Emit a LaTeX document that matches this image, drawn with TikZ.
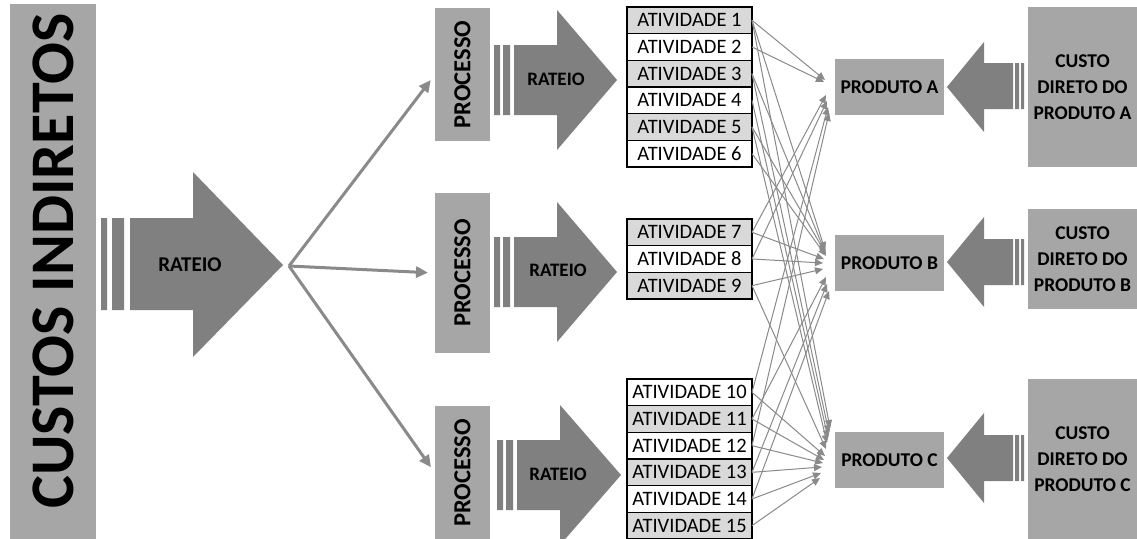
\documentclass[tikz,border=0pt]{standalone}
\usepackage{fontspec}
\setmainfont{Carlito}
\usepackage{graphicx}
\usetikzlibrary{positioning,calc,arrows.meta}
\definecolor{Caixa}{HTML}{A6A6A6}
\definecolor{Seta}{HTML}{808080}
\definecolor{Linha}{HTML}{8A8A8A}
\definecolor{Claro}{HTML}{D9D9D9}

\begin{document}
\begin{tikzpicture}[x=1pt,y=-1pt,
    every node/.style={align=center,inner sep=0pt,outer sep=0pt},
    bloco/.style={fill=Caixa,font=\bfseries\fontsize{19.5}{26}\selectfont},
    ativ/.style={draw=black,line width=1.6pt,minimum width=125pt,minimum height=26.67pt,font=\fontsize{20.5}{22}\selectfont},
    rotulo/.style={font=\bfseries\fontsize{19}{22}\selectfont},
    leque/.style={draw=Linha,line width=3pt,-{Triangle[length=12pt,width=11pt]},shorten >=7pt},
    liga/.style={draw=Linha,line width=1pt,-{Triangle[length=8pt,width=7pt]}}]
  \clip (0,0) rectangle (1137,538);
  \fill[white] (0,0) rectangle (1137,538);

  % custos indiretos e rateio geral
  \node[bloco,minimum width=86pt,minimum height=536pt,font=\bfseries\fontsize{62}{62}\selectfont] (ci) at (53,272) {\rotatebox{90}{\hspace*{22pt}CUSTOS INDIRETOS}};
  \fill[Seta] (101,218) rectangle (107,310) (112,218) rectangle (124,310)
    (130,218) -- (193,218) -- (193,172) -- (283,265) -- (193,357) -- (193,310) -- (130,310) -- cycle;
  \node[rotulo,font=\bfseries\fontsize{21}{24}\selectfont] (rt) at (190,265) {RATEIO};
  \coordinate (fan) at (289,266);

  % processos
  \node[bloco,minimum width=55pt,minimum height=133pt,font=\bfseries\fontsize{24.5}{26}\selectfont] (pr1) at (462.5,74.5) {\rotatebox{90}{PROCESSO}};
  \node[bloco,minimum width=55pt,minimum height=160pt,font=\bfseries\fontsize{24.5}{26}\selectfont] (pr2) at (462.5,273) {\rotatebox{90}{PROCESSO}};
  \node[bloco,minimum width=55pt,minimum height=134pt,font=\bfseries\fontsize{24.5}{26}\selectfont] (pr3) at (462.5,473) {\rotatebox{90}{PROCESSO}};
  \draw[leque] (fan) -- (pr1.west);
  \draw[leque] (fan) -- (pr2.west);
  \draw[leque] (fan) -- (pr3.west);

  % rateio dos processos
  \fill[Seta] (494,45) rectangle (500,115) (503,45) rectangle (510,115)
    (514,45) -- (557,45) -- (557,10) -- (617,80) -- (557,150) -- (557,115) -- (514,115) -- cycle;
  \fill[Seta] (494,237) rectangle (500,307) (503,237) rectangle (510,307)
    (514,237) -- (557,237) -- (557,202) -- (617,272) -- (557,342) -- (557,307) -- (514,307) -- cycle;
  \fill[Seta] (497,440) rectangle (503,510) (506,440) rectangle (513,510)
    (517,440) -- (560,440) -- (560,405) -- (621,475) -- (560,545) -- (560,510) -- (517,510) -- cycle;
  \node[rotulo] (r1) at (556,79) {RATEIO};
  \node[rotulo] (r2) at (558,270) {RATEIO};
  \node[rotulo] (r3) at (558,474) {RATEIO};

  % atividades
  \node[ativ,fill=Claro] (a1) at (689.5,20.3) {ATIVIDADE 1};
  \node[ativ,fill=white,below=0pt of a1] (a2) {ATIVIDADE 2};
  \node[ativ,fill=Claro,below=0pt of a2] (a3) {ATIVIDADE 3};
  \node[ativ,fill=white,below=0pt of a3] (a4) {ATIVIDADE 4};
  \node[ativ,fill=Claro,below=0pt of a4] (a5) {ATIVIDADE 5};
  \node[ativ,fill=white,below=0pt of a5] (a6) {ATIVIDADE 6};
  \node[ativ,fill=Claro] (a7) at (689.5,232.3) {ATIVIDADE 7};
  \node[ativ,fill=white,below=0pt of a7] (a8) {ATIVIDADE 8};
  \node[ativ,fill=Claro,below=0pt of a8] (a9) {ATIVIDADE 9};
  \node[ativ,fill=white] (a10) at (689.5,392.3) {ATIVIDADE 10};
  \node[ativ,fill=Claro,below=0pt of a10] (a11) {ATIVIDADE 11};
  \node[ativ,fill=white,below=0pt of a11] (a12) {ATIVIDADE 12};
  \node[ativ,fill=Claro,below=0pt of a12] (a13) {ATIVIDADE 13};
  \node[ativ,fill=white,below=0pt of a13] (a14) {ATIVIDADE 14};
  \node[ativ,fill=Claro,below=0pt of a14] (a15) {ATIVIDADE 15};

  % produtos e custos diretos
  \node[bloco,minimum width=109pt,minimum height=56pt] (pA) at (889.5,87) {PRODUTO A};
  \node[bloco,minimum width=109pt,minimum height=56pt] (pB) at (889.5,263) {PRODUTO B};
  \node[bloco,minimum width=109pt,minimum height=56pt] (pC) at (889.5,460) {PRODUTO C};
  \node[bloco,minimum width=109pt,minimum height=160pt] (cA) at (1082.5,87) {CUSTO\\DIRETO DO\\PRODUTO A};
  \node[bloco,minimum width=109pt,minimum height=100pt] (cB) at (1082.5,259) {CUSTO\\DIRETO DO\\PRODUTO B};
  \node[bloco,minimum width=109pt,minimum height=160pt] (cC) at (1082.5,459) {CUSTO\\DIRETO DO\\PRODUTO C};
  \fill[Seta] (947,87) -- (984,42) -- (984,63) -- (1013,63) -- (1013,109) -- (984,109) -- (984,132) -- cycle
    (1015,63) rectangle (1019,109) (1021,63) rectangle (1024,109);
  \fill[Seta] (947,262) -- (984,217) -- (984,239) -- (1013,239) -- (1013,285) -- (984,285) -- (984,307) -- cycle
    (1015,239) rectangle (1019,285) (1021,239) rectangle (1024,285);
  \fill[Seta] (947,458) -- (984,413) -- (984,435) -- (1013,435) -- (1013,481) -- (984,481) -- (984,503) -- cycle
    (1015,435) rectangle (1019,481) (1021,435) rectangle (1024,481);

  % ligacoes para o produto A
  \draw[liga] (a1.east) -- ($(pA.west)+(-10,-7)$);
  \draw[liga] (a2.east) -- ($(pA.west)+(-11,-5)$);
  \draw[liga] (a7.east) -- ($(pA.west)+(-9,8)$);
  \draw[liga] (a8.east) -- ($(pA.west)+(-8,14)$);
  \draw[liga] (a10.east) -- ($(pA.west)+(-7,20)$);
  \draw[liga] (a12.east) -- ($(pA.west)+(-6,26)$);
  % ligacoes para o produto B
  \draw[liga] (a1.east) -- ($(pB.west)+(-10,-13)$);
  \draw[liga] (a3.east) -- ($(pB.west)+(-10,-11)$);
  \draw[liga] (a5.east) -- ($(pB.west)+(-9,-9)$);
  \draw[liga] (a6.east) -- ($(pB.west)+(-9,-7)$);
  \draw[liga] (a7.east) -- ($(pB.west)+(-11,-4)$);
  \draw[liga] (a8.east) -- ($(pB.west)+(-12,0)$);
  \draw[liga] (a9.east) -- ($(pB.west)+(-12,6)$);
  \draw[liga] (a11.east) -- ($(pB.west)+(-9,14)$);
  \draw[liga] (a13.east) -- ($(pB.west)+(-8,21)$);
  \draw[liga] (a14.east) -- ($(pB.west)+(-6,28)$);
  % ligacoes para o produto C
  \draw[liga] (a1.east) -- ($(pC.west)+(-5,-32)$);
  \draw[liga] (a3.east) -- ($(pC.west)+(-6,-27)$);
  \draw[liga] (a4.east) -- ($(pC.west)+(-7,-22)$);
  \draw[liga] (a5.east) -- ($(pC.west)+(-8,-17)$);
  \draw[liga] (a9.east) -- ($(pC.west)+(-9,-11)$);
  \draw[liga] (a10.east) -- ($(pC.west)+(-10,-4)$);
  \draw[liga] (a11.east) -- ($(pC.west)+(-11,0)$);
  \draw[liga] (a12.east) -- ($(pC.west)+(-12,3)$);
  \draw[liga] (a13.east) -- ($(pC.west)+(-13,7)$);
  \draw[liga] (a14.east) -- ($(pC.west)+(-14,13)$);
  \draw[liga] (a15.east) -- ($(pC.west)+(-15,18)$);
\end{tikzpicture}
\end{document}
